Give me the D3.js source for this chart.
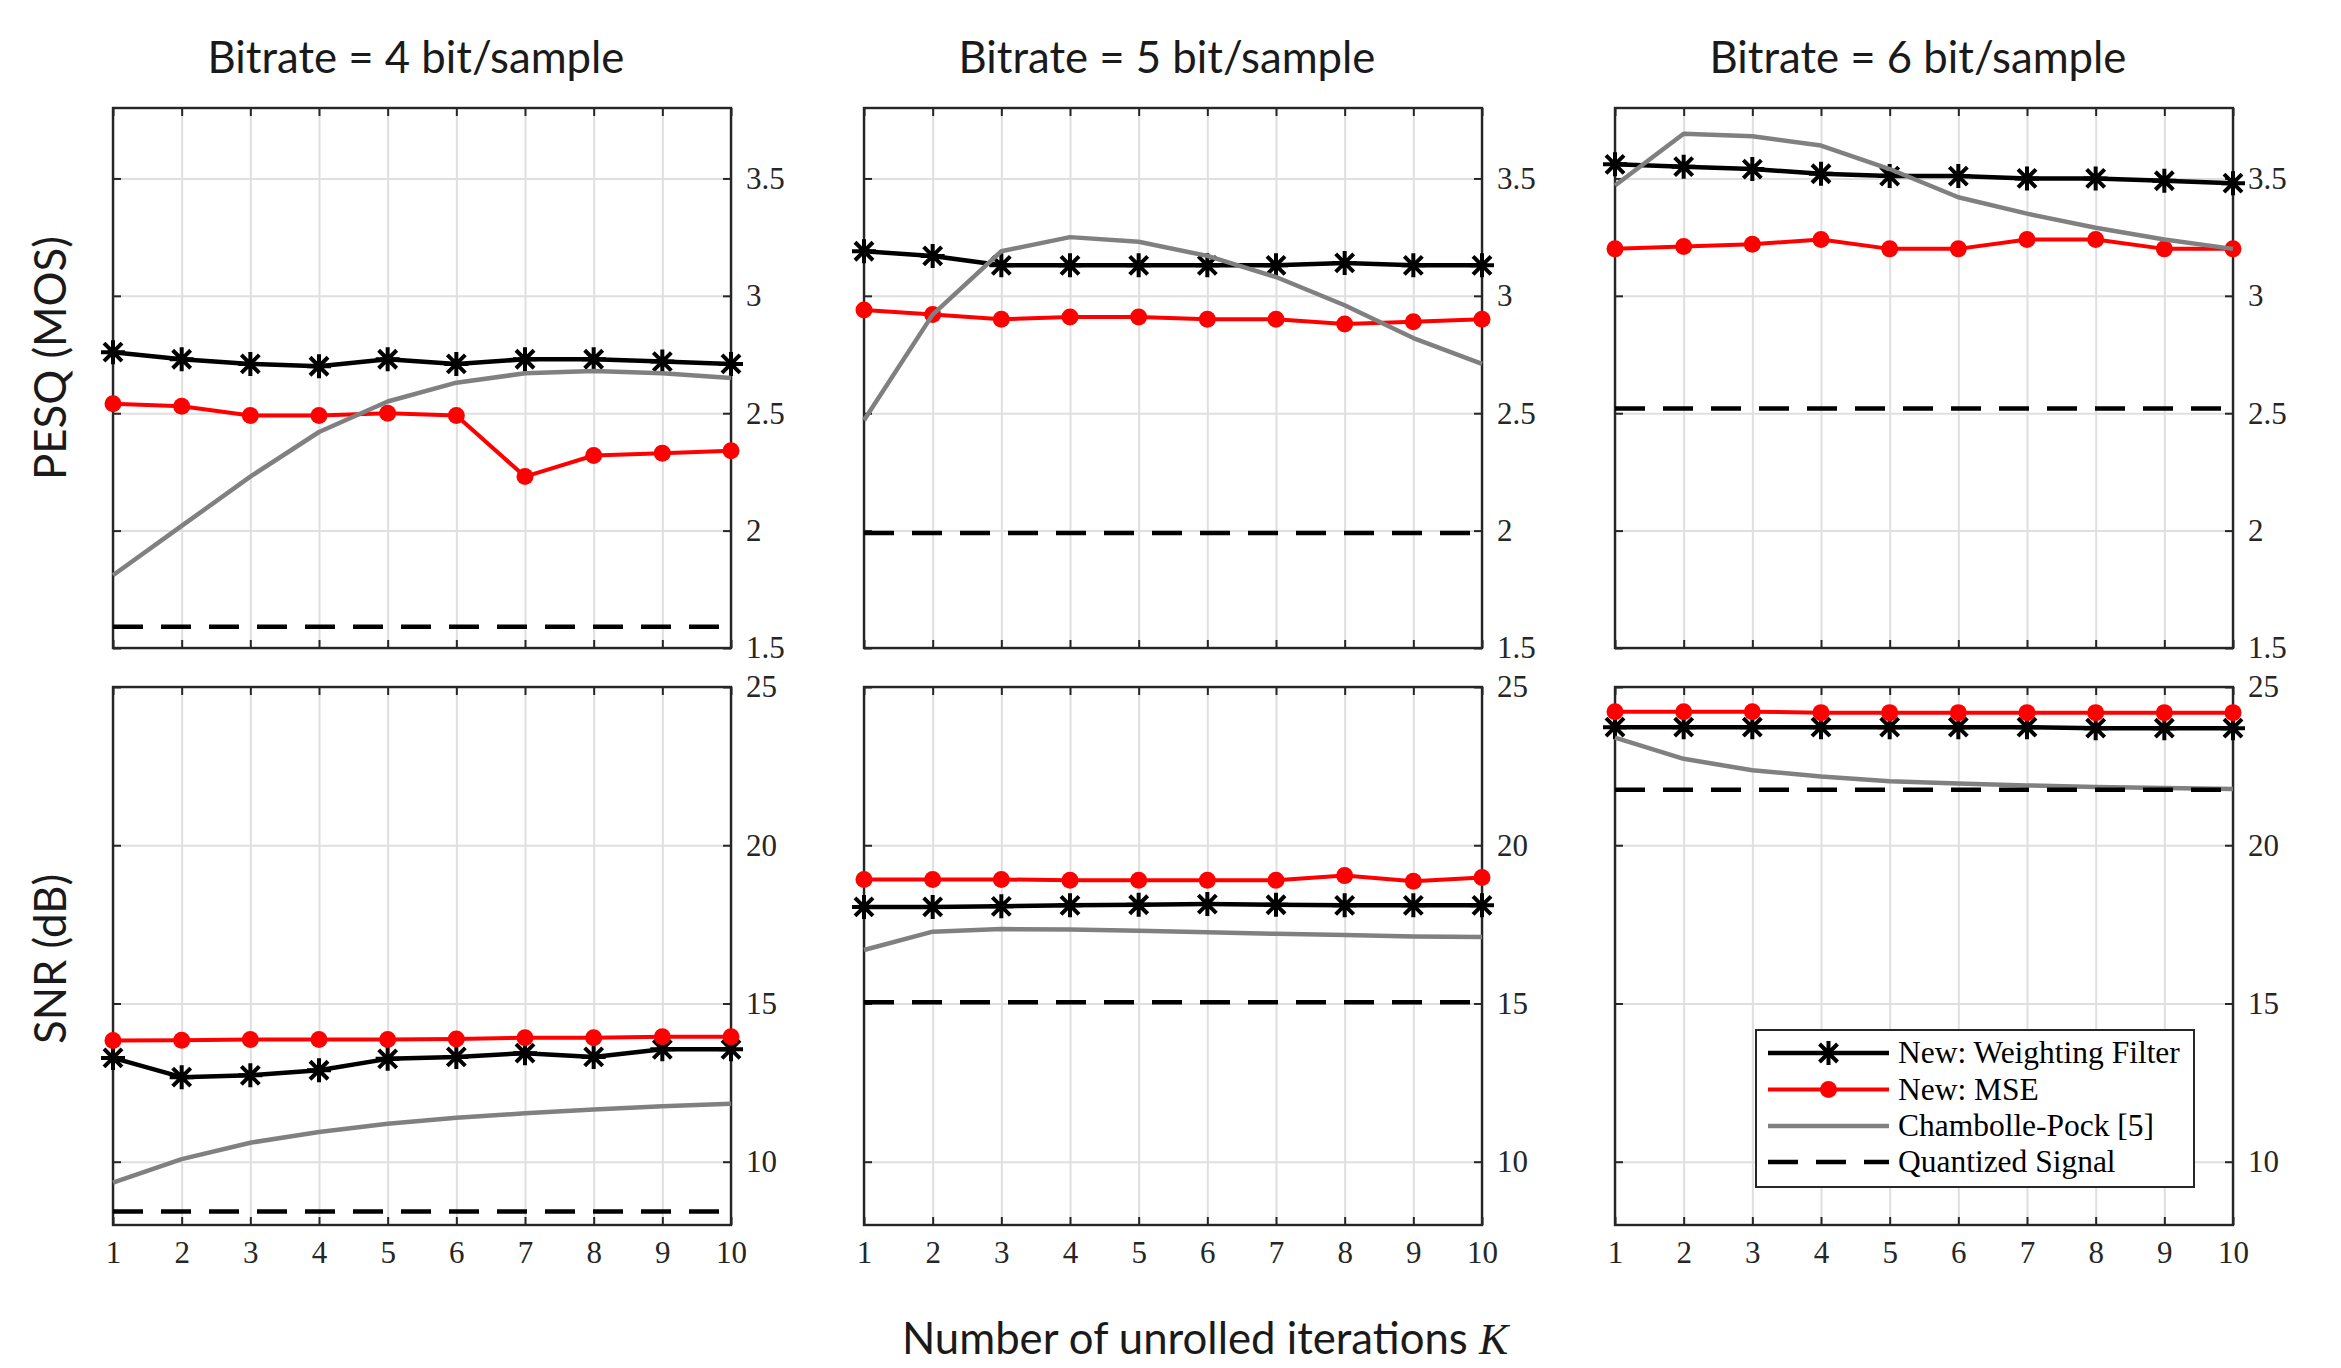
<!DOCTYPE html>
<html>
<head>
<meta charset="utf-8">
<script src="https://cdn.jsdelivr.net/npm/d3@7"></script>
<style>
html, body { margin: 0; padding: 0; background: #fff; }
svg { display: block; }
</style>
</head>
<body>
<svg id="chart" width="2341" height="1368"></svg>
<script>
// ---------------- DATA ----------------
const iterations = [1, 2, 3, 4, 5, 6, 7, 8, 9, 10];
const bitrateTitles = ["Bitrate = 4 bit/sample", "Bitrate = 5 bit/sample", "Bitrate = 6 bit/sample"];
const seriesNames = ["New: Weighting Filter", "New: MSE", "Chambolle-Pock [5]", "Quantized Signal"];
const rowLabels = ["PESQ (MOS)", "SNR (dB)"];

const pesqTicks = [1.5, 2, 2.5, 3, 3.5];
const pesqTickLabels = ["1.5", "2", "2.5", "3", "3.5"];
const snrTicks = [10, 15, 20, 25];
const snrTickLabels = ["10", "15", "20", "25"];

// PESQ, 4 bit/sample
const pesq4WF  = [2.76, 2.73, 2.71, 2.70, 2.73, 2.71, 2.73, 2.73, 2.72, 2.71];
const pesq4MSE = [2.54, 2.53, 2.49, 2.49, 2.50, 2.49, 2.23, 2.32, 2.33, 2.34];
const pesq4CP  = [1.81, 2.02, 2.23, 2.42, 2.55, 2.63, 2.67, 2.68, 2.67, 2.65];
const pesq4Q   = 1.59;
// PESQ, 5 bit/sample
const pesq5WF  = [3.19, 3.17, 3.13, 3.13, 3.13, 3.13, 3.13, 3.14, 3.13, 3.13];
const pesq5MSE = [2.94, 2.92, 2.90, 2.91, 2.91, 2.90, 2.90, 2.88, 2.89, 2.90];
const pesq5CP  = [2.47, 2.92, 3.19, 3.25, 3.23, 3.17, 3.08, 2.96, 2.82, 2.71];
const pesq5Q   = 1.99;
// PESQ, 6 bit/sample
const pesq6WF  = [3.56, 3.55, 3.54, 3.52, 3.51, 3.51, 3.50, 3.50, 3.49, 3.48];
const pesq6MSE = [3.20, 3.21, 3.22, 3.24, 3.20, 3.20, 3.24, 3.24, 3.20, 3.20];
const pesq6CP  = [3.47, 3.69, 3.68, 3.64, 3.54, 3.42, 3.35, 3.29, 3.24, 3.20];
const pesq6Q   = 2.52;
// SNR, 4 bit/sample
const snr4WF  = [13.28, 12.67, 12.73, 12.89, 13.25, 13.31, 13.43, 13.31, 13.55, 13.55];
const snr4MSE = [13.83, 13.84, 13.86, 13.86, 13.86, 13.88, 13.92, 13.92, 13.95, 13.95];
const snr4CP  = [9.34, 10.08, 10.60, 10.94, 11.20, 11.39, 11.53, 11.65, 11.75, 11.83];
const snr4Q   = 8.43;
// SNR, 5 bit/sample
const snr5WF  = [18.05, 18.05, 18.07, 18.10, 18.12, 18.14, 18.12, 18.10, 18.10, 18.10];
const snr5MSE = [18.92, 18.92, 18.92, 18.89, 18.89, 18.89, 18.89, 19.04, 18.86, 18.98];
const snr5CP  = [16.69, 17.27, 17.35, 17.34, 17.30, 17.25, 17.20, 17.16, 17.12, 17.10];
const snr5Q   = 15.04;
// SNR, 6 bit/sample
const snr6WF  = [23.73, 23.73, 23.73, 23.73, 23.73, 23.73, 23.73, 23.70, 23.70, 23.70];
const snr6MSE = [24.22, 24.22, 24.22, 24.19, 24.19, 24.19, 24.19, 24.19, 24.19, 24.19];
const snr6CP  = [23.40, 22.73, 22.37, 22.17, 22.02, 21.95, 21.89, 21.84, 21.81, 21.78];
const snr6Q   = 21.75;

// ---------------- LAYOUT ----------------
const svg = d3.select("#chart");
const colX = [113, 864, 1615];
const panelW = 618;
const rows = [
  { top: 108, bottom: 648, domain: [1.5, 3.8], ticks: pesqTicks, labels: pesqTickLabels,
    data: [[pesq4WF, pesq4MSE, pesq4CP, pesq4Q], [pesq5WF, pesq5MSE, pesq5CP, pesq5Q], [pesq6WF, pesq6MSE, pesq6CP, pesq6Q]] },
  { top: 687, bottom: 1225, domain: [8, 25], ticks: snrTicks, labels: snrTickLabels,
    data: [[snr4WF, snr4MSE, snr4CP, snr4Q], [snr5WF, snr5MSE, snr5CP, snr5Q], [snr6WF, snr6MSE, snr6CP, snr6Q]] }
];

const serifFont = "'Liberation Serif', 'DejaVu Serif', serif";
const sansFont = "Lato, 'Open Sans', sans-serif";
const tickFontSize = 31;
const boxColor = "#262626";
const gridColor = "#dfdfdf";

const colors = { wf: "#000000", mse: "#ff0000", cp: "#808080", q: "#000000" };
const widths = { wf: 4.5, mse: 4, cp: 4.5, q: 4.5 };
const dashPattern = "30,18";

function asterisk(g, cx, cy, color) {
  const a = 12, d = 9;
  return g.append("path")
    .attr("d", `M${cx},${cy - a}L${cx},${cy + a}M${cx - a},${cy}L${cx + a},${cy}` +
               `M${cx - d},${cy - d}L${cx + d},${cy + d}M${cx - d},${cy + d}L${cx + d},${cy - d}`)
    .attr("stroke", color).attr("stroke-width", 4).attr("fill", "none");
}

rows.forEach((row, ri) => {
  colX.forEach((x0, ci) => {
    const x = d3.scaleLinear().domain([1, 10]).range([x0, x0 + panelW]);
    const y = d3.scaleLinear().domain(row.domain).range([row.bottom, row.top]);
    const g = svg.append("g");
    const h = row.bottom - row.top;

    // grid
    g.append("g").attr("transform", `translate(0,${row.bottom})`)
      .call(d3.axisBottom(x).tickValues(iterations).tickSize(-h).tickFormat(""))
      .call(s => s.select(".domain").remove())
      .call(s => s.selectAll("line").attr("stroke", gridColor).attr("stroke-width", 2));
    g.append("g").attr("transform", `translate(${x0},0)`)
      .call(d3.axisLeft(y).tickValues(row.ticks).tickSize(-panelW).tickFormat(""))
      .call(s => s.select(".domain").remove())
      .call(s => s.selectAll("line").attr("stroke", gridColor).attr("stroke-width", 2));

    // box
    g.append("rect").attr("x", x0).attr("y", row.top).attr("width", panelW).attr("height", h)
      .attr("fill", "none").attr("stroke", boxColor).attr("stroke-width", 2.4);

    // inward ticks on all four sides
    const tk = 8;
    g.append("g").attr("transform", `translate(0,${row.bottom})`)
      .call(d3.axisBottom(x).tickValues(iterations).tickSizeInner(-tk).tickSizeOuter(0)
        .tickPadding(16).tickFormat(ri === 1 ? d3.format("d") : ""))
      .call(s => s.select(".domain").remove())
      .call(s => s.selectAll("line").attr("stroke", boxColor).attr("stroke-width", 2))
      .call(s => s.selectAll("text").attr("fill", "#262626").attr("font-family", serifFont).attr("font-size", tickFontSize));
    g.append("g").attr("transform", `translate(0,${row.top})`)
      .call(d3.axisTop(x).tickValues(iterations).tickSizeInner(-tk).tickSizeOuter(0).tickFormat(""))
      .call(s => s.select(".domain").remove())
      .call(s => s.selectAll("line").attr("stroke", boxColor).attr("stroke-width", 2));
    g.append("g").attr("transform", `translate(${x0},0)`)
      .call(d3.axisLeft(y).tickValues(row.ticks).tickSizeInner(-tk).tickSizeOuter(0).tickFormat(""))
      .call(s => s.select(".domain").remove())
      .call(s => s.selectAll("line").attr("stroke", boxColor).attr("stroke-width", 2));
    g.append("g").attr("transform", `translate(${x0 + panelW},0)`)
      .call(d3.axisRight(y).tickValues(row.ticks).tickSizeInner(-tk).tickSizeOuter(0)
        .tickPadding(15).tickFormat((d, i) => row.labels[i]))
      .call(s => s.select(".domain").remove())
      .call(s => s.selectAll("line").attr("stroke", boxColor).attr("stroke-width", 2))
      .call(s => s.selectAll("text").attr("fill", "#262626").attr("font-family", serifFont).attr("font-size", tickFontSize));

    const [wf, mse, cp, q] = row.data[ci];
    const line = d3.line().x((d, i) => x(iterations[i])).y(d => y(d));

    // Weighting filter
    g.append("path").datum(wf).attr("d", line).attr("fill", "none")
      .attr("stroke", colors.wf).attr("stroke-width", widths.wf).attr("stroke-linejoin", "round");
    wf.forEach((v, i) => asterisk(g, x(iterations[i]), y(v), colors.wf));

    // MSE
    g.append("path").datum(mse).attr("d", line).attr("fill", "none")
      .attr("stroke", colors.mse).attr("stroke-width", widths.mse).attr("stroke-linejoin", "round");
    g.selectAll(null).data(mse).enter().append("circle")
      .attr("cx", (d, i) => x(iterations[i])).attr("cy", d => y(d)).attr("r", 8.5)
      .attr("fill", colors.mse);

    // Chambolle-Pock
    g.append("path").datum(cp).attr("d", line).attr("fill", "none")
      .attr("stroke", colors.cp).attr("stroke-width", widths.cp).attr("stroke-linejoin", "round");

    // Quantized
    g.append("path").datum(iterations.map(() => q)).attr("d", line).attr("fill", "none")
      .attr("stroke", colors.q).attr("stroke-width", widths.q).attr("stroke-dasharray", dashPattern);

    // title
    if (ri === 0) {
      svg.append("text").attr("class", "title")
        .attr("x", x0 + panelW / 2 - 6).attr("y", 73)
        .attr("text-anchor", "middle").attr("font-family", sansFont).attr("font-size", 40)
        .attr("fill", "#1a1a1a").text(bitrateTitles[ci]);
    }
  });
});

// Fit title font size to the reference width (~417px)
const t0 = svg.select(".title").node();
const titleSize = 40 * 417 / t0.getComputedTextLength();
svg.selectAll(".title").attr("font-size", titleSize);

// Row labels (rotated)
const rowCenters = [358, 959];
rowLabels.forEach((lab, i) => {
  svg.append("text")
    .attr("transform", `translate(66,${rowCenters[i]}) rotate(-90)`)
    .attr("text-anchor", "middle").attr("font-family", sansFont).attr("font-size", titleSize)
    .attr("fill", "#1a1a1a").text(lab);
});

// X label
const xl = svg.append("text").attr("x", 1205).attr("y", 1354)
  .attr("text-anchor", "middle").attr("font-family", sansFont).attr("font-size", titleSize)
  .attr("fill", "#1a1a1a");
xl.append("tspan").text("Number of unrolled iterations ");
xl.append("tspan").attr("font-family", serifFont).attr("font-style", "italic").text("K");

// Legend
const lg = svg.append("g");
const lgX = 1756, lgY = 1030, lgW = 438, lgH = 157;
lg.append("rect").attr("x", lgX).attr("y", lgY).attr("width", lgW).attr("height", lgH)
  .attr("fill", "#fff").attr("stroke", boxColor).attr("stroke-width", 2);
const rowY = [1053, 1089.5, 1126, 1162];
const lx1 = 1768, lx2 = 1889, lmid = (lx1 + lx2) / 2;
const styles = [
  { c: colors.wf, w: widths.wf, dash: null, m: "ast" },
  { c: colors.mse, w: widths.mse, dash: null, m: "circ" },
  { c: colors.cp, w: widths.cp, dash: null, m: null },
  { c: colors.q, w: widths.q, dash: dashPattern, m: null }
];
const legTexts = [];
seriesNames.forEach((name, i) => {
  const s = styles[i];
  const ln = lg.append("line").attr("x1", lx1).attr("x2", lx2).attr("y1", rowY[i]).attr("y2", rowY[i])
    .attr("stroke", s.c).attr("stroke-width", s.w);
  if (s.dash) ln.attr("stroke-dasharray", s.dash);
  if (s.m === "ast") asterisk(lg, lmid, rowY[i], s.c);
  if (s.m === "circ") lg.append("circle").attr("cx", lmid).attr("cy", rowY[i]).attr("r", 8.5).attr("fill", s.c);
  legTexts.push(lg.append("text").attr("x", 1898).attr("y", rowY[i]).attr("dy", "0.33em")
    .attr("font-family", serifFont).attr("font-size", 29).attr("fill", "#000").text(name));
});
const legSize = 29 * 282 / legTexts[0].node().getComputedTextLength();
legTexts.forEach(t => t.attr("font-size", legSize));
</script>
</body>
</html>
